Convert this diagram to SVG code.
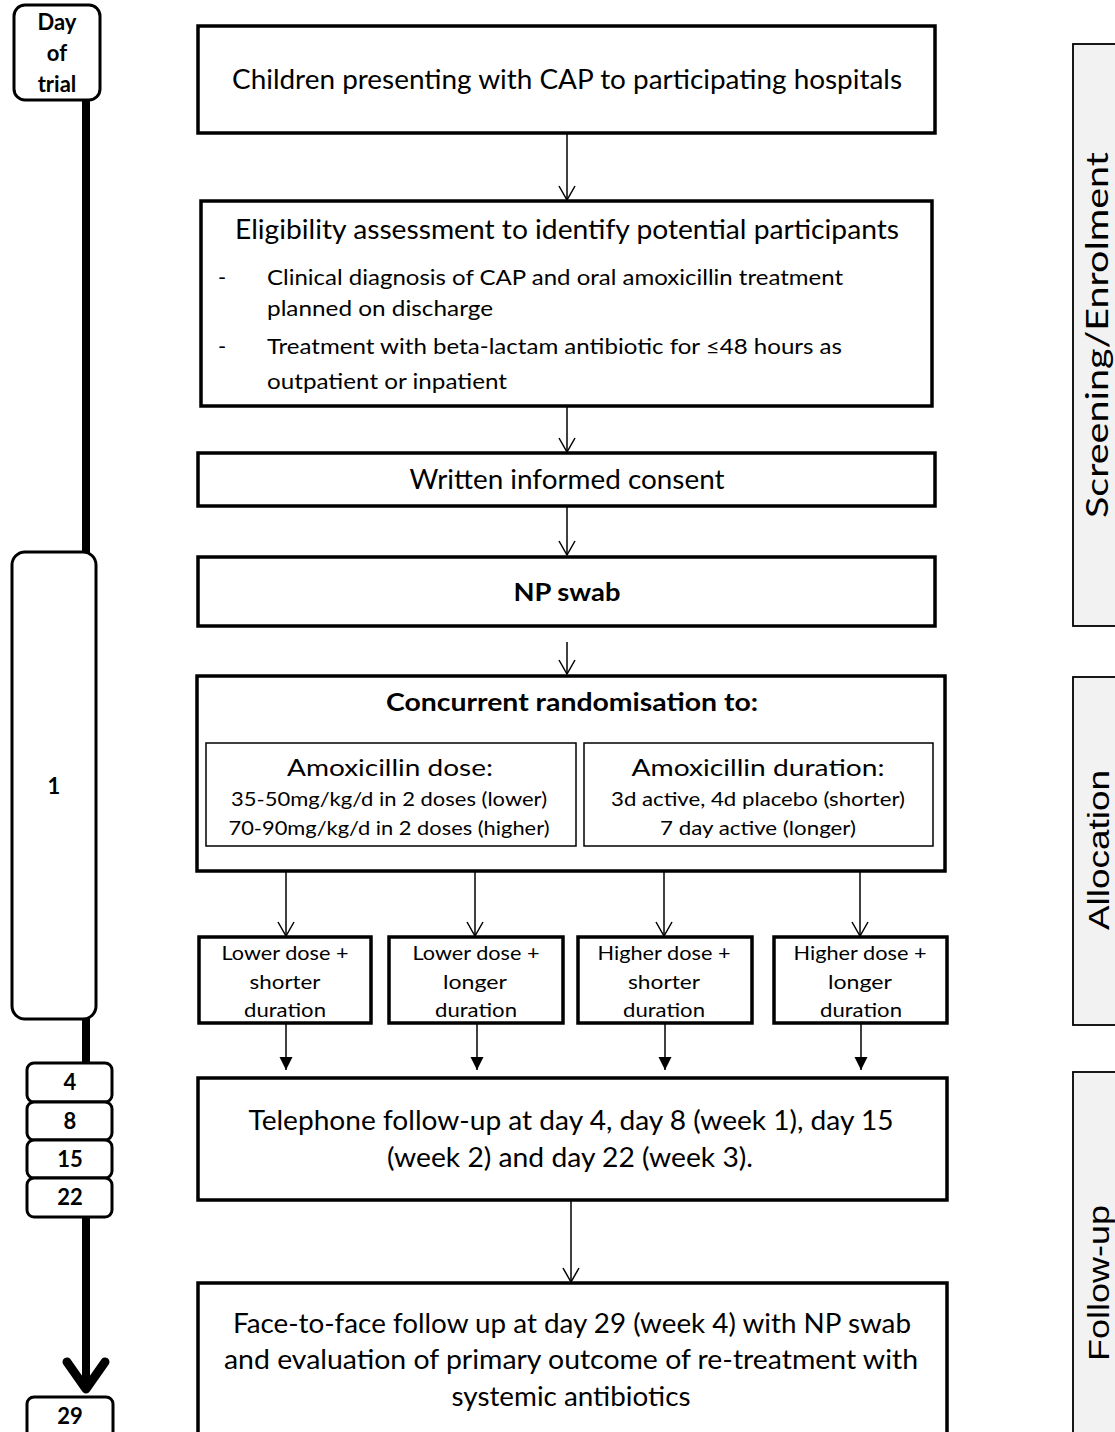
<svg xmlns="http://www.w3.org/2000/svg" width="1115" height="1432" viewBox="0 0 1115 1432">
<style>
.box{fill:#fff;stroke:#000;stroke-width:3.5}
.inner{fill:#fff;stroke:#000;stroke-width:1.5}
.tl{fill:#fff;stroke:#000;stroke-width:3}
.side{fill:#f2f2f2;stroke:#000;stroke-width:1.8}
.t{font-family:Lato,"Liberation Sans",sans-serif;fill:#000}
.c{text-anchor:middle}
.b{font-weight:bold}
.s26{font-size:26px}
.s24{font-size:24px}
.s22{font-size:22px}
.s20{font-size:20px}
.side-t{font-family:"Liberation Sans",Arial,sans-serif;font-size:30px;text-anchor:middle}
.conn{stroke:#000;stroke-width:1.5;fill:none}
</style>
<defs>
<marker id="open" markerUnits="userSpaceOnUse" markerWidth="18" markerHeight="18" viewBox="0 0 18 18" refX="16" refY="9" orient="auto">
<path d="M2,1 L16,9 L2,17" fill="none" stroke="#000" stroke-width="1.5"/>
</marker>
<marker id="filled" markerUnits="userSpaceOnUse" markerWidth="14" markerHeight="14" viewBox="0 0 14 14" refX="13" refY="7" orient="auto">
<path d="M0,0.5 L13,7 L0,13.5 z" fill="#000"/>
</marker>
</defs>

<!-- Timeline -->
<g id="timeline">
<line x1="86" y1="95" x2="86" y2="1386" stroke="#000" stroke-width="8"/>
<polyline points="67,1362 86,1389 105,1362" fill="none" stroke="#000" stroke-width="9" stroke-linecap="round" stroke-linejoin="round"/>
</g>
<g id="day-of-trial">
<rect class="tl" x="14" y="5" width="86" height="95" rx="11"/>
<text class="t c b s22" x="57" y="30">Day</text>
<text class="t c b s22" x="57" y="61">of</text>
<text class="t c b s22" x="57" y="92">trial</text>
</g>
<g id="day-1">
<rect class="tl" x="12" y="552" width="84" height="467" rx="13"/>
<text class="t c b s22" x="54" y="794">1</text>
</g>
<g id="day-4">
<rect class="tl" x="27" y="1063" width="85" height="39" rx="7"/>
<text class="t c b s22" x="70" y="1090">4</text>
</g>
<g id="day-8">
<rect class="tl" x="27" y="1102" width="85" height="38" rx="7"/>
<text class="t c b s22" x="70" y="1129">8</text>
</g>
<g id="day-15">
<rect class="tl" x="27" y="1140" width="85" height="38" rx="7"/>
<text class="t c b s22" x="70" y="1167">15</text>
</g>
<g id="day-22">
<rect class="tl" x="27" y="1178" width="85" height="39" rx="7"/>
<text class="t c b s22" x="70" y="1205">22</text>
</g>
<g id="day-29">
<rect class="tl" x="27" y="1397" width="86" height="50" rx="7"/>
<text class="t c b s22" x="70" y="1424">29</text>
</g>

<!-- Side phase labels -->
<g id="phase-screening">
<rect class="side" x="1073" y="44" width="60" height="582"/>
<text class="t" font-size="30" text-anchor="middle" transform="translate(1108,335) rotate(-90)" textLength="366" lengthAdjust="spacingAndGlyphs">Screening/Enrolment</text>
</g>
<g id="phase-allocation">
<rect class="side" x="1073" y="677" width="60" height="348"/>
<text class="side-t" transform="translate(1109,850) rotate(-90)" textLength="160" lengthAdjust="spacingAndGlyphs">Allocation</text>
</g>
<g id="phase-followup">
<rect class="side" x="1073" y="1072" width="60" height="400"/>
<text class="side-t" transform="translate(1109,1283) rotate(-90)" textLength="156" lengthAdjust="spacingAndGlyphs">Follow-up</text>
</g>

<!-- Connectors -->
<g id="connectors">
<line class="conn" x1="567" y1="133" x2="567" y2="200" marker-end="url(#open)"/>
<line class="conn" x1="567" y1="406" x2="567" y2="452" marker-end="url(#open)"/>
<line class="conn" x1="567" y1="506" x2="567" y2="555" marker-end="url(#open)"/>
<line class="conn" x1="567" y1="642" x2="567" y2="674" marker-end="url(#open)"/>
<line class="conn" x1="286" y1="871" x2="286" y2="936" marker-end="url(#open)"/>
<line class="conn" x1="475" y1="871" x2="475" y2="936" marker-end="url(#open)"/>
<line class="conn" x1="664" y1="871" x2="664" y2="936" marker-end="url(#open)"/>
<line class="conn" x1="860" y1="871" x2="860" y2="936" marker-end="url(#open)"/>
<line class="conn" x1="286" y1="1023" x2="286" y2="1070" marker-end="url(#filled)"/>
<line class="conn" x1="477" y1="1023" x2="477" y2="1070" marker-end="url(#filled)"/>
<line class="conn" x1="665" y1="1023" x2="665" y2="1070" marker-end="url(#filled)"/>
<line class="conn" x1="861" y1="1023" x2="861" y2="1070" marker-end="url(#filled)"/>
<line class="conn" x1="571" y1="1200" x2="571" y2="1282" marker-end="url(#open)"/>
</g>

<!-- Nodes -->
<g id="children">
<rect class="box" x="198" y="26" width="737" height="107"/>
<text class="t c s26" x="567" y="89" textLength="670" lengthAdjust="spacingAndGlyphs">Children presenting with CAP to participating hospitals</text>
</g>
<g id="eligibility">
<rect class="box" x="201" y="201" width="731" height="205"/>
<text class="t c s26" x="567" y="239" textLength="664" lengthAdjust="spacingAndGlyphs">Eligibility assessment  to identify potential participants</text>
<text class="t s22" x="218" y="285">-</text>
<text class="t s22" x="267" y="285" textLength="576" lengthAdjust="spacingAndGlyphs">Clinical diagnosis of CAP and oral amoxicillin treatment</text>
<text class="t s22" x="267" y="316" textLength="226" lengthAdjust="spacingAndGlyphs">planned on discharge</text>
<text class="t s22" x="218" y="354">-</text>
<text class="t s22" x="267" y="354" textLength="575" lengthAdjust="spacingAndGlyphs">Treatment with beta-lactam antibiotic for ≤48 hours as</text>
<text class="t s22" x="267" y="389" textLength="240" lengthAdjust="spacingAndGlyphs">outpatient or inpatient</text>
</g>
<g id="consent">
<rect class="box" x="198" y="453" width="737" height="53"/>
<text class="t c s26" x="567" y="489" textLength="315" lengthAdjust="spacingAndGlyphs">Written informed consent</text>
</g>
<g id="np-swab">
<rect class="box" x="198" y="557" width="737" height="69"/>
<text class="t c b s24" x="567" y="601" textLength="107" lengthAdjust="spacingAndGlyphs">NP swab</text>
</g>
<g id="randomisation">
<rect class="box" x="197" y="676" width="748" height="195"/>
<text class="t c b s24" x="572" y="711" textLength="372" lengthAdjust="spacingAndGlyphs">Concurrent randomisation to:</text>
<rect class="inner" x="206" y="743" width="370" height="103"/>
<text class="t c s24" x="390" y="776" textLength="206" lengthAdjust="spacingAndGlyphs">Amoxicillin dose:</text>
<text class="t c s20" x="389" y="806" textLength="316" lengthAdjust="spacingAndGlyphs">35-50mg/kg/d in 2 doses (lower)</text>
<text class="t c s20" x="389" y="835" textLength="321" lengthAdjust="spacingAndGlyphs">70-90mg/kg/d in 2 doses (higher)</text>
<rect class="inner" x="584" y="743" width="349" height="103"/>
<text class="t c s24" x="758" y="776" textLength="253" lengthAdjust="spacingAndGlyphs">Amoxicillin duration:</text>
<text class="t c s20" x="758" y="806" textLength="294" lengthAdjust="spacingAndGlyphs">3d active, 4d placebo (shorter)</text>
<text class="t c s20" x="758" y="835" textLength="196" lengthAdjust="spacingAndGlyphs">7 day active (longer)</text>
</g>
<g id="arm-lower-shorter">
<rect class="box" x="199" y="937" width="172" height="86"/>
<text class="t c s20" x="285" y="960" textLength="127" lengthAdjust="spacingAndGlyphs">Lower dose +</text>
<text class="t c s20" x="285" y="989" textLength="71" lengthAdjust="spacingAndGlyphs">shorter</text>
<text class="t c s20" x="285" y="1017" textLength="82" lengthAdjust="spacingAndGlyphs">duration</text>
</g>
<g id="arm-lower-longer">
<rect class="box" x="389" y="937" width="174" height="86"/>
<text class="t c s20" x="476" y="960" textLength="127" lengthAdjust="spacingAndGlyphs">Lower dose +</text>
<text class="t c s20" x="475" y="989" textLength="64" lengthAdjust="spacingAndGlyphs">longer</text>
<text class="t c s20" x="476" y="1017" textLength="82" lengthAdjust="spacingAndGlyphs">duration</text>
</g>
<g id="arm-higher-shorter">
<rect class="box" x="578" y="937" width="174" height="86"/>
<text class="t c s20" x="664" y="960" textLength="133" lengthAdjust="spacingAndGlyphs">Higher dose +</text>
<text class="t c s20" x="664" y="989" textLength="72" lengthAdjust="spacingAndGlyphs">shorter</text>
<text class="t c s20" x="664" y="1017" textLength="82" lengthAdjust="spacingAndGlyphs">duration</text>
</g>
<g id="arm-higher-longer">
<rect class="box" x="774" y="937" width="173" height="86"/>
<text class="t c s20" x="860" y="960" textLength="133" lengthAdjust="spacingAndGlyphs">Higher dose +</text>
<text class="t c s20" x="860" y="989" textLength="64" lengthAdjust="spacingAndGlyphs">longer</text>
<text class="t c s20" x="861" y="1017" textLength="82" lengthAdjust="spacingAndGlyphs">duration</text>
</g>
<g id="telephone">
<rect class="box" x="198" y="1078" width="749" height="122"/>
<text class="t c s26" x="571" y="1130" textLength="645" lengthAdjust="spacingAndGlyphs">Telephone  follow-up at day 4, day 8 (week 1), day 15</text>
<text class="t c s26" x="570" y="1167" textLength="366" lengthAdjust="spacingAndGlyphs">(week 2) and day 22 (week 3).</text>
</g>
<g id="face-to-face">
<rect class="box" x="198" y="1283" width="749" height="200"/>
<text class="t c s26" x="572" y="1333" textLength="678" lengthAdjust="spacingAndGlyphs">Face-to-face  follow up at day 29 (week 4) with NP swab</text>
<text class="t c s26" x="571" y="1369" textLength="694" lengthAdjust="spacingAndGlyphs">and evaluation of primary outcome of re-treatment with</text>
<text class="t c s26" x="571" y="1406" textLength="239" lengthAdjust="spacingAndGlyphs">systemic antibiotics</text>
</g>
</svg>
